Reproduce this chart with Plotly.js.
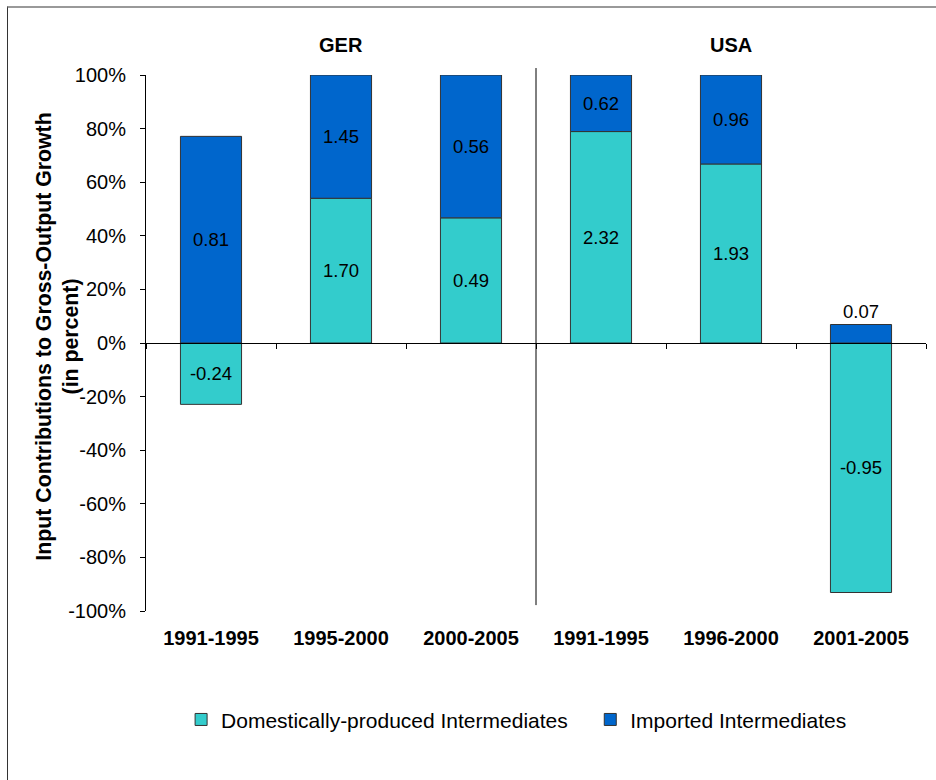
<!DOCTYPE html>
<html>
<head>
<meta charset="utf-8">
<script src="https://cdn.plot.ly/plotly-3.0.1.min.js"></script>
<style>
html,body{margin:0;padding:0;background:#fff;}
#wrap{position:relative;width:936px;height:780px;}
#chart{position:absolute;left:0;top:0;width:936px;height:780px;}
#frame{position:absolute;left:7px;top:6px;width:940px;height:790px;border-left:1.5px solid #333;border-top:2px solid #999;pointer-events:none;}
</style>
</head>
<body>
<div id="wrap"><div id="chart"></div><div id="frame"></div></div>
<script>
// Data
const periods = ["1991-1995", "1995-2000", "2000-2005", "1991-1995 ", "1996-2000", "2001-2005"];
const groups = ["GER", "USA"];
const groupCenters = [1, 4];
const domesticShare = [-22.9, 54.0, 46.7, 78.9, 66.8, -93.1];   // % of gross-output growth
const importedShare = [77.1, 46.0, 53.3, 21.1, 33.2, 6.9];
const domesticLabels = ["-0.24", "1.70", "0.49", "2.32", "1.93", "-0.95"];
const importedLabels = ["0.81", "1.45", "0.56", "0.62", "0.96", "0.07"];
const yTicks = [-100, -80, -60, -40, -20, 0, 20, 40, 60, 80, 100];
const boundaryTicks = [-0.5, 0.5, 1.5, 2.5, 3.5, 4.5, 5.5];
const yTitle = "Input Contributions to Gross-Output Growth<br>(in percent)";

const FONT = "Liberation Sans, Arial, sans-serif";
const PAD = "\u00a0\u00a0\u00a0";

const traces = [
  {
    type: "bar", name: "Domestically-produced Intermediates" + PAD,
    x: periods, y: domesticShare, text: domesticLabels,
    textposition: "inside", insidetextanchor: "middle", constraintext: "none",
    textfont: {family: FONT, size: 18.5, color: "#000"},
    marker: {color: "#33CCCC", line: {color: "#333", width: 1}},
    hoverinfo: "skip"
  },
  {
    type: "bar", name: "Imported Intermediates",
    x: periods, y: importedShare, text: importedLabels,
    textposition: ["inside", "inside", "inside", "inside", "inside", "outside"],
    insidetextanchor: "middle", constraintext: "none",
    textfont: {family: FONT, size: 18.5, color: "#000"},
    outsidetextfont: {family: FONT, size: 18.5, color: "#000"},
    marker: {color: "#0066CC", line: {color: "#333", width: 1}},
    cliponaxis: false,
    hoverinfo: "skip"
  },
  {
    type: "scatter", x: [0], y: [0], xaxis: "x2", mode: "markers",
    marker: {opacity: 0}, showlegend: false, hoverinfo: "skip"
  }
];

const annotations = groups.map((g, i) => ({
  text: "<b>" + g + "</b>", x: periods[groupCenters[i]], xref: "x",
  y: 1.056, yref: "paper", yanchor: "middle", showarrow: false,
  font: {family: FONT, size: 20, color: "#000"}
}));
annotations.push({
  text: "<b>" + yTitle + "</b>", textangle: -90,
  xref: "paper", x: -0.114, xanchor: "center",
  yref: "paper", y: 0.512, yanchor: "middle", showarrow: false,
  font: {family: FONT, size: 21.3, color: "#000"}
});

const layout = {
  width: 936, height: 780,
  margin: {l: 146, r: 10, t: 75, b: 169},
  paper_bgcolor: "#fff", plot_bgcolor: "#fff",
  barmode: "relative", bargap: 0.53,
  font: {family: FONT, size: 20, color: "#000"},
  showlegend: true,
  legend: {
    orientation: "h", x: 0.045, xanchor: "left", y: -0.203, yanchor: "middle",
    font: {family: FONT, size: 21, color: "#000"},
    traceorder: "normal"
  },
  xaxis: {
    type: "category", range: [-0.5, 5.5], showline: false, showgrid: false,
    zeroline: false, ticks: "outside", ticklen: 9, tickcolor: "rgba(0,0,0,0)",
    tickfont: {family: FONT, size: 20, color: "#000"},
    tickvals: periods, ticktext: periods.map(p => "<b>" + p.trim() + "</b>"),
    fixedrange: true
  },
  xaxis2: {
    overlaying: "x", anchor: "free", position: 0.5, side: "bottom",
    type: "linear", range: [-0.5, 5.5], showline: true, linecolor: "#000", linewidth: 1,
    ticks: "outside", ticklen: 5, tickcolor: "#000", tickvals: boundaryTicks,
    showticklabels: false, showgrid: false, zeroline: false, fixedrange: true
  },
  yaxis: {
    range: [-100, 100], tickvals: yTicks, ticktext: yTicks.map(v => v + "%"),
    showline: true, linecolor: "#000", linewidth: 1,
    ticks: "outside", ticklen: 5, tickcolor: "#000",
    ticklabelstandoff: 10,
    showgrid: false, zeroline: false,
    tickfont: {family: FONT, size: 20, color: "#000"},
    fixedrange: true
  },
  shapes: [
    {type: "line", xref: "x2", yref: "paper", x0: 2.5, x1: 2.5, y0: 0.011, y1: 1.013,
     line: {color: "#000", width: 1}}
  ],
  annotations: annotations
};

Plotly.newPlot("chart", traces, layout, {displayModeBar: false, staticPlot: true});
</script>
</body>
</html>
